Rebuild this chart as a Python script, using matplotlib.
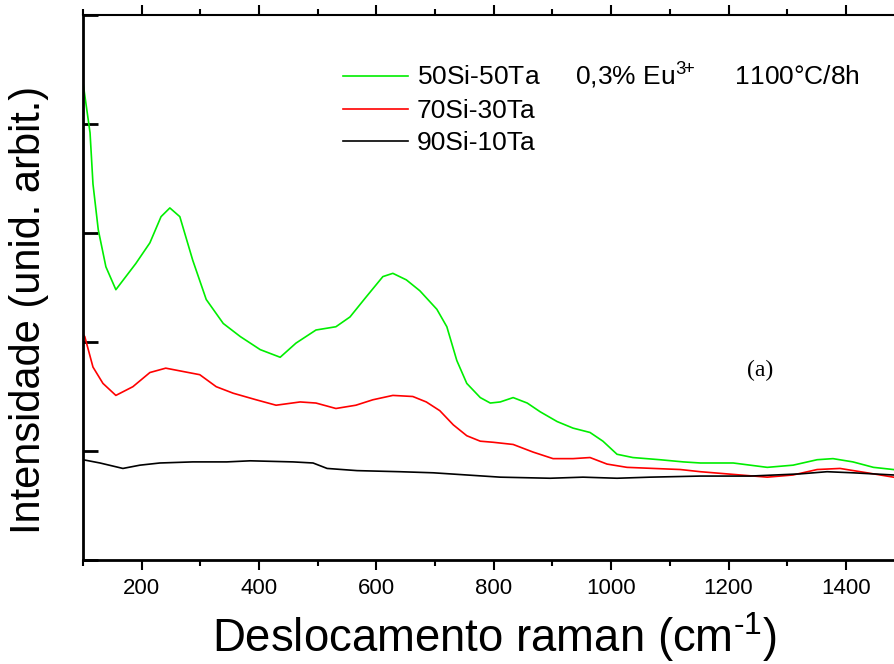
import matplotlib
matplotlib.use("Agg")
import matplotlib.pyplot as plt
from matplotlib.ticker import MultipleLocator, FixedLocator

plt.rcParams['font.family'] = ['Liberation Sans', 'DejaVu Sans']
plt.rcParams['mathtext.fontset'] = 'custom'
plt.rcParams['mathtext.rm'] = 'Liberation Sans'
plt.rcParams['mathtext.it'] = 'Liberation Sans'

# ---- data ----
green_x = [100, 112, 117, 126, 139, 156, 173, 190, 214, 233, 248, 265, 287, 310,
           339, 368, 402, 436, 463, 497, 531, 555, 582, 611, 628, 651, 674, 703,
           720, 737, 754, 777, 794, 811, 833, 857, 879, 908, 935, 964, 986, 1010,
           1037, 1083, 1123, 1152, 1208, 1266, 1310, 1351, 1378, 1412, 1447, 1481]
green_y = [4.38, 3.92, 3.45, 3.03, 2.69, 2.48, 2.60, 2.72, 2.91, 3.15, 3.23, 3.15,
           2.75, 2.39, 2.17, 2.05, 1.93, 1.86, 1.99, 2.11, 2.14, 2.23, 2.41, 2.60,
           2.63, 2.57, 2.47, 2.30, 2.14, 1.83, 1.62, 1.49, 1.44, 1.45, 1.49, 1.44,
           1.36, 1.27, 1.21, 1.17, 1.09, 0.97, 0.94, 0.92, 0.90, 0.89, 0.89, 0.85,
           0.87, 0.92, 0.93, 0.90, 0.85, 0.83]

red_x = [100, 103, 117, 134, 156, 185, 214, 241, 270, 299, 327, 356, 395, 429,
         470, 497, 531, 565, 594, 628, 662, 685, 708, 731, 754, 777, 799, 833,
         867, 901, 935, 964, 993, 1027, 1072, 1118, 1152, 1220, 1266, 1310, 1351,
         1390, 1436, 1481]
red_y = [2.07, 2.05, 1.77, 1.62, 1.51, 1.59, 1.72, 1.76, 1.73, 1.70, 1.59, 1.53,
         1.47, 1.42, 1.45, 1.44, 1.39, 1.42, 1.47, 1.51, 1.50, 1.45, 1.37, 1.24,
         1.14, 1.09, 1.08, 1.06, 0.99, 0.93, 0.93, 0.94, 0.88, 0.85, 0.84, 0.83,
         0.81, 0.78, 0.76, 0.78, 0.83, 0.84, 0.80, 0.76]

black_x = [100, 129, 168, 197, 231, 287, 345, 385, 458, 492, 516, 567, 640, 697,
           754, 811, 896, 952, 1010, 1066, 1152, 1237, 1322, 1368, 1412, 1481]
black_y = [0.92, 0.89, 0.84, 0.87, 0.89, 0.90, 0.90, 0.91, 0.90, 0.89, 0.84, 0.82,
           0.81, 0.80, 0.78, 0.76, 0.75, 0.76, 0.75, 0.76, 0.77, 0.77, 0.79, 0.81,
           0.80, 0.78]

labels = ["50Si-50Ta     0,3% Eu$^{3\\!\\!+}$     1100\u00b0C/8h", "70Si-30Ta", "90Si-10Ta"]
x_ticks = [200, 400, 600, 800, 1000, 1200, 1400]

fig = plt.figure(figsize=(8.94, 6.64), dpi=100)
ax = fig.add_axes([83 / 894, 104 / 664, 811 / 894, 545 / 664])

ax.plot(green_x, green_y, color='#00ee00', lw=1.2, label=labels[0])
ax.plot(red_x, red_y, color='#ff0000', lw=1.2, label=labels[1])
ax.plot(black_x, black_y, color='#000000', lw=1.2, label=labels[2])

ax.set_xlim(100, 1482)
ax.set_ylim(0, 5)

ax.xaxis.set_major_locator(FixedLocator(x_ticks))
ax.xaxis.set_minor_locator(MultipleLocator(100))
ax.yaxis.set_major_locator(MultipleLocator(1))
ax.tick_params(axis='x', which='major', direction='out', length=7, width=1.5,
               labelsize=16, pad=6)
ax.tick_params(axis='x', which='minor', direction='out', length=4, width=1.5)
ax.tick_params(axis='x', which='both', top=True)
ax.tick_params(axis='y', which='major', direction='in', length=11, width=2,
               labelleft=False, right=False)

ax.spines['right'].set_visible(False)
ax.spines['left'].set_linewidth(2)
ax.spines['bottom'].set_linewidth(2)
ax.spines['top'].set_linewidth(1.5)

ax.set_xlabel("Deslocamento raman (cm$^{\\text{-1}}$)", fontsize=32.8)
ax.xaxis.label.set_va('baseline')
ax.xaxis.set_label_coords((495 - 83) / 811, (560 - 652) / 545)
ax.set_ylabel("Intensidade (unid. arbit.)", fontsize=30)
ax.yaxis.set_label_coords((49 - 83) / 811, (560 - 310) / 545)

leg = ax.legend(loc='upper left', bbox_to_anchor=((343 - 83) / 811, (560 - 61) / 545),
                frameon=False, fontsize=19, handlelength=2.45, handletextpad=0.34,
                labelspacing=0.3, borderaxespad=0, borderpad=0)

ax.text(1254, 1.74, "(a)", fontsize=17, family=['Liberation Serif'],
        ha='center', va='center')

fig.savefig("out.png", dpi=100)
